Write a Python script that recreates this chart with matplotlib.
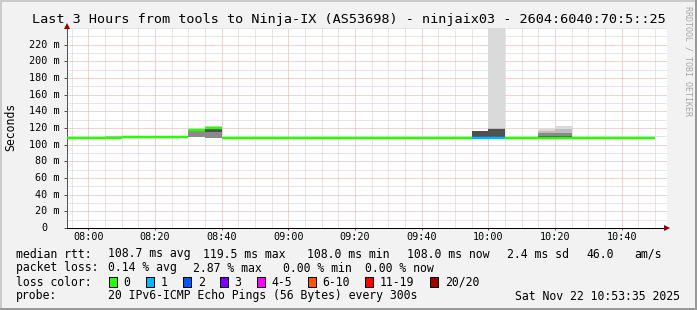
import matplotlib
matplotlib.use('Agg')
import matplotlib.pyplot as plt
import matplotlib.dates as mdates
import matplotlib.transforms as mtransforms
from matplotlib.patches import Rectangle
import pandas as pd
import numpy as np

# ---------------- data ----------------
DAY = '2025-11-22'
title = 'Last 3 Hours from tools to Ninja-IX (AS53698) - ninjaix03 - 2604:6040:70:5::25'
view_start = '07:53:35'
view_end = '10:53:35'

# start time of each 5-minute RRD step
step_times = ['07:50', '07:55', '08:00', '08:05', '08:10', '08:15', '08:20', '08:25', '08:30', '08:35',
              '08:40', '08:45', '08:50', '08:55', '09:00', '09:05', '09:10', '09:15', '09:20', '09:25',
              '09:30', '09:35', '09:40', '09:45', '09:50', '09:55', '10:00', '10:05', '10:10', '10:15',
              '10:20', '10:25', '10:30', '10:35', '10:40', '10:45']
median_ms = [108.0, 108.0, 108.0, 108.0, 109.5, 109.5, 109.5, 109.5, 117.5, 119.5,
             108.0, 108.0, 108.0, 108.0, 108.0, 108.0, 108.0, 108.0, 108.0, 108.0,
             108.0, 108.0, 108.0, 108.0, 108.0, 108.0, 108.0, 108.0, 108.0, 108.0,
             108.0, 108.0, 108.0, 108.0, 108.0, 108.0]
lost_pings = [0, 0, 0, 0, 0, 0, 0, 0, 0, 0,
              0, 0, 0, 0, 0, 0, 0, 0, 0, 0,
              0, 0, 0, 0, 0, 1, 1, 0, 0, 0,
              0, 0, 0, 0, 0, 0]

# smoke (ping spread) for the steps where it is visible, outer ranks -> inner ranks
smoke_times = ['08:05', '08:30', '08:35', '09:55', '10:00', '10:15', '10:20']
smoke_r1_lo = [108.0, 109.3, 108.3, 108.5, 108.0, 108.0, 108.0]
smoke_r1_hi = [110.7, 118.8, 122.5, 116.4, 250.0, 118.8, 122.4]
smoke_r2_lo = [108.0, 109.4, 108.4, 108.6, 108.1, 108.0, 108.0]
smoke_r2_hi = [110.0, 118.6, 121.0, 116.2, 119.6, 116.5, 119.0]
smoke_r3_lo = [108.0, 109.6, 108.5, 108.7, 108.2, 108.0, 108.0]
smoke_r3_hi = [109.2, 118.4, 120.5, 116.0, 119.3, 113.5, 114.5]
smoke_r4_lo = [108.0, 116.5, 115.0, 108.8, 108.3, 108.0, 108.0]
smoke_r4_hi = [108.6, 118.2, 120.2, 115.8, 119.0, 110.0, 110.5]

y_ticks = [0, 20, 40, 60, 80, 100, 120, 140, 160, 180, 200, 220]
y_tick_labels = ['0', '20 m', '40 m', '60 m', '80 m', '100 m', '120 m', '140 m',
                 '160 m', '180 m', '200 m', '220 m']
x_tick_labels = ['08:00', '08:20', '08:40', '09:00', '09:20', '09:40', '10:00', '10:20', '10:40']

loss_labels = ['0', '1', '2', '3', '4-5', '6-10', '11-19', '20/20']
loss_upper = [0, 1, 2, 3, 5, 10, 19, 20]
loss_colors = ['#26ff00', '#00b8ff', '#0059ff', '#7e00ff', '#ff00ff', '#ff5500', '#ff0000', '#a10000']

rtt_stats = ['108.7 ms avg', '119.5 ms max', '108.0 ms min', '108.0 ms now', '2.4 ms sd', '46.0', 'am/s']
loss_stats = ['0.14 % avg', '2.87 % max', '0.00 % min', '0.00 % now']
probe_text = '20 IPv6-ICMP Echo Pings (56 Bytes) every 300s'
stamp_text = 'Sat Nov 22 10:53:35 2025'
y_label = 'Seconds'
watermark = 'RRDTOOL / TOBI OETIKER'

# ---------------- layout ----------------
W, H, DPI = 697, 310, 100
AX_L, AX_R, AX_T, AX_B = 67, 667, 28, 228
MONO = 'DejaVu Sans Mono'
PX = 72.0 / DPI  # points per pixel
LEG_FS = 8.3

def t(hm):
    return mdates.date2num(pd.Timestamp(f'{DAY} {hm}').to_pydatetime())

STEP = 5 / 1440.0

fig = plt.figure(figsize=(W / DPI, H / DPI), dpi=DPI)
fig.patch.set_facecolor('#f2f2f2')

ax = fig.add_axes([AX_L / W, 1 - AX_B / H, (AX_R - AX_L) / W, (AX_B - AX_T) / H])
ax.set_facecolor('white')
ax.set_xlim(t(view_start), t(view_end))
ax.set_ylim(0, 240)
ax.set_axisbelow(True)

# grid
ax.set_yticks(y_ticks)
ax.set_yticks(np.arange(0, 241, 10), minor=True)
ax.set_xticks([t(s) for s in x_tick_labels])
ax.xaxis.set_minor_locator(mdates.MinuteLocator(byminute=range(0, 60, 5)))
ax.grid(which='minor', color='#cfcfcf', linestyle=(0, (1, 1)), linewidth=PX)
ax.grid(which='major', color='#f2a3a3', linestyle=(0, (1, 1)), linewidth=PX)

# smoke
sx = np.array([t(s) for s in smoke_times])
bands = [(smoke_r1_lo, smoke_r1_hi, '#dadada'),
         (smoke_r2_lo, smoke_r2_hi, '#bdbdbd'),
         (smoke_r3_lo, smoke_r3_hi, '#8a8a8a'),
         (smoke_r4_lo, smoke_r4_hi, '#505050')]
for lo, hi, col in bands:
    lo = np.array(lo); hi = np.array(hi)
    ax.bar(sx, hi - lo, bottom=lo, width=STEP, align='edge', color=col, linewidth=0, zorder=2)

# median line coloured by loss
def loss_color(n):
    for up, c in zip(loss_upper, loss_colors):
        if n <= up:
            return c
    return loss_colors[-1]

mx = np.array([t(s) for s in step_times])
ax.hlines(median_ms, mx, mx + STEP, colors=[loss_color(n) for n in lost_pings],
          linewidth=2.5 * PX, zorder=3, capstyle='butt')

# axes / spines
for s in ['top', 'right']:
    ax.spines[s].set_visible(False)
ax.spines['left'].set_color('#555555')
ax.spines['left'].set_linewidth(PX)
ax.spines['bottom'].set_color('#000000')
ax.spines['bottom'].set_linewidth(PX)
ax.plot([1.0], [0.0], marker='>', markersize=5, color='#9a0000', transform=ax.transAxes,
        clip_on=False, zorder=5, markeredgewidth=0)
ax.plot([0.0], [1.01], marker='^', markersize=5, color='#9a0000', transform=ax.transAxes,
        clip_on=False, zorder=5, markeredgewidth=0)

ax.tick_params(axis='y', which='major', length=3 * PX, width=PX, color='#555555', labelleft=False)
ax.tick_params(axis='y', which='minor', length=0)
ax.tick_params(axis='x', which='major', length=2 * PX, width=PX, color='#555555', pad=2.5 * PX)
ax.tick_params(axis='x', which='minor', length=0)
ax.set_xticklabels(x_tick_labels, fontsize=7.3, fontfamily=MONO)

ytrans = mtransforms.blended_transform_factory(fig.transFigure, ax.transData)
for v, lab in zip(y_ticks, y_tick_labels):
    right = 59.5 if lab.endswith('m') else 47.4
    ax.text(right / W, v, lab, transform=ytrans, ha='right', va='center',
            fontsize=7.3, family=MONO, color='black')

# texts
def ft(x, y, s, **kw):
    kw.setdefault('fontsize', LEG_FS)
    kw.setdefault('family', MONO)
    kw.setdefault('va', 'center')
    kw.setdefault('ha', 'left')
    fig.text(x / W, 1 - y / H, s, **kw)

ft(348.5, 19, title, ha='center', fontsize=9.7)
ft(11, 127, y_label, rotation=90, ha='center')
ft(688, 6, watermark, rotation=-90, ha='center', va='top', fontsize=6.0, color='#a8a8a8')

ft(16, 254, 'median rtt:')
for x, s in zip([107.7, 202.7, 307.2, 407.0, 507.0, 586.0, 634.7], rtt_stats):
    ft(x, 254, s)
ft(16, 268, 'packet loss:')
for x, s in zip([107.7, 193.3, 282.7, 365.3], loss_stats):
    ft(x, 268, s)
ft(16, 282, 'loss color:')
for x, lab, col in zip([108.7, 145.7, 183.0, 220.0, 256.7, 307.6, 365.3, 430.3], loss_labels, loss_colors):
    fig.add_artist(Rectangle((x / W, 1 - 287 / H), 8 / W, 10 / H, transform=fig.transFigure,
                             facecolor=col, edgecolor='black', linewidth=PX))
    ft(x + 14.7, 282, lab)
ft(16, 296, 'probe:')
ft(107.7, 296, probe_text)
ft(680.3, 296, stamp_text, ha='right')

# 3D frame
fig.add_artist(Rectangle((0, 0), 2 / W, 1, transform=fig.transFigure, facecolor='#cbcbcb', linewidth=0))
fig.add_artist(Rectangle((0, 1 - 2 / H), 1, 2 / H, transform=fig.transFigure, facecolor='#cbcbcb', linewidth=0))
fig.add_artist(Rectangle((1 - 2 / W, 0), 2 / W, 1, transform=fig.transFigure, facecolor='#999999', linewidth=0))
fig.add_artist(Rectangle((0, 0), 1, 2 / H, transform=fig.transFigure, facecolor='#999999', linewidth=0))

fig.savefig('out.png', dpi=DPI, facecolor=fig.get_facecolor())
